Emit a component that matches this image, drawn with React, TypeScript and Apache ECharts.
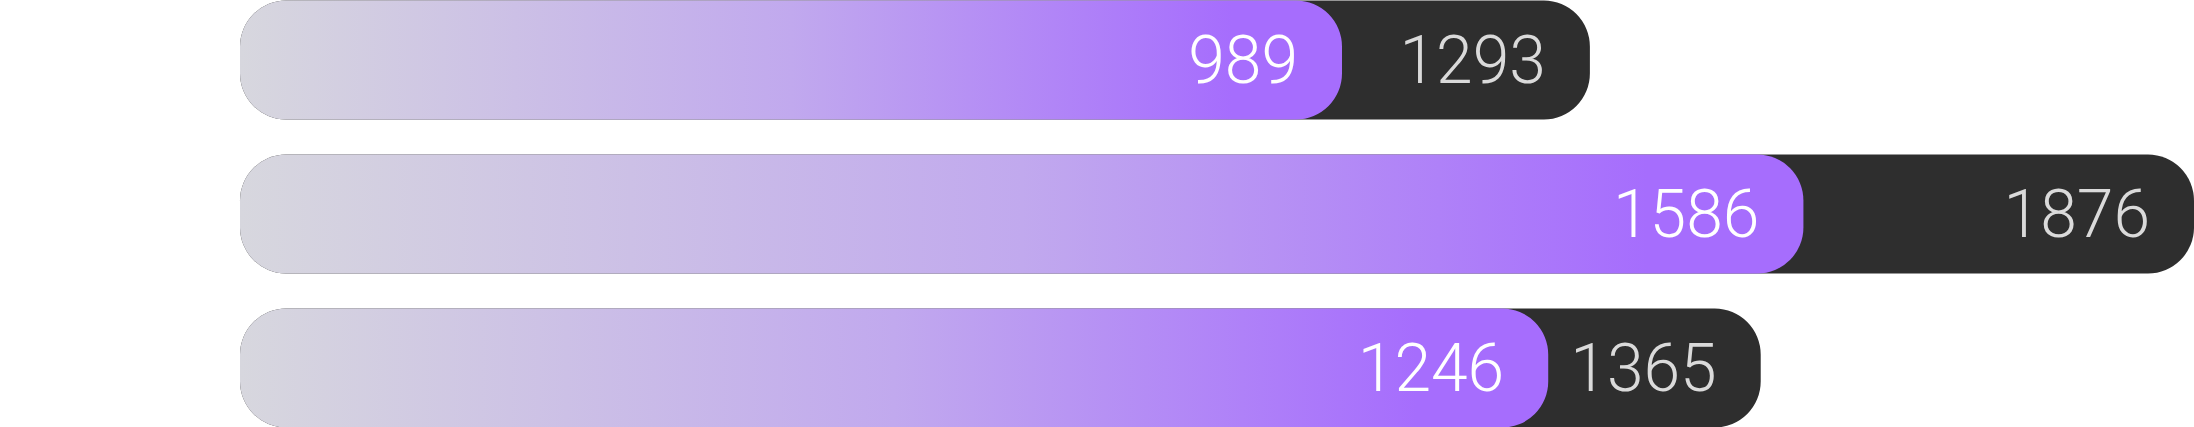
import React, { useEffect, useRef } from "react";
import * as echarts from "echarts";

const categories = ["Row 1", "Row 2", "Row 3"];
// bar lengths (same units as the labels, scale set by the longest bar)
const totalValues = [1296, 1876, 1460];
const partValues = [1058, 1501, 1256];
// numbers printed on the bars
const totalLabels = ["1293", "1876", "1365"];
const partLabels = ["989", "1586", "1246"];

export default function App() {
  const ref = useRef<HTMLDivElement>(null);
  useEffect(() => {
    document.body.style.margin = "0";
    const chart = echarts.init(ref.current!, null, { renderer: "svg" });
    const labelBase = {
      show: true,
      position: "insideRight" as const,
      distance: 44,
      fontSize: 66,
      fontFamily: "Roboto",
      fontWeight: 300 as const,
    };
    chart.setOption({
      animation: false,
      grid: { left: 240, right: 0, top: 0, bottom: 0, containLabel: false },
      xAxis: { type: "value", min: 0, max: 1876, show: false },
      yAxis: { type: "category", data: categories, inverse: true, show: false },
      series: [
        {
          type: "bar",
          data: totalValues,
          barWidth: 119,
          barGap: "-100%",
          z: 1,
          itemStyle: { color: "#2e2e2e", borderRadius: 46 },
          label: {
            ...labelBase,
            color: "#dadada",
            formatter: (p: any) => totalLabels[p.dataIndex],
          },
        },
        {
          type: "bar",
          data: partValues,
          barWidth: 119,
          barGap: "-100%",
          z: 2,
          itemStyle: {
            borderRadius: 46,
            color: new echarts.graphic.LinearGradient(0, 0, 1, 0, [
              { offset: 0, color: "#d7d7de" },
              { offset: 0.5, color: "#c1a9ee" },
              { offset: 0.9, color: "#a66dfd" },
              { offset: 1, color: "#a66dfd" },
            ]),
          },
          label: {
            ...labelBase,
            color: "#ffffff",
            formatter: (p: any) => partLabels[p.dataIndex],
          },
        },
      ],
    });
    return () => chart.dispose();
  }, []);
  return (
    <div style={{ width: 2194, height: 427, overflow: "hidden", position: "relative" }}>
      <div ref={ref} style={{ width: 2194, height: 462, position: "absolute", left: 0, top: -17.5 }} />
    </div>
  );
}
